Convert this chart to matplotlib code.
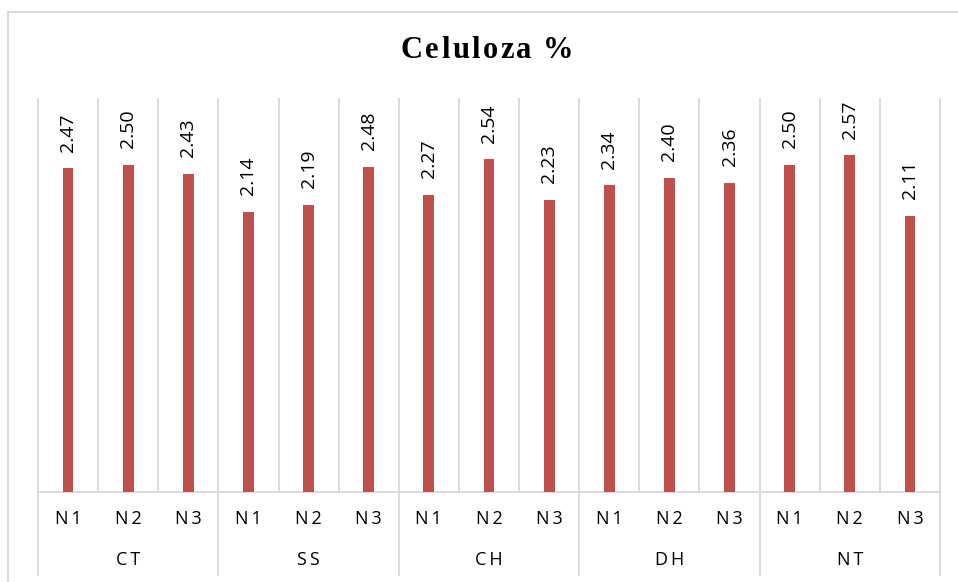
import matplotlib
matplotlib.use('Agg')
import matplotlib.pyplot as plt
import numpy as np

# data
groups = ['CT', 'SS', 'CH', 'DH', 'NT']
levels = ['N1', 'N2', 'N3']
values = [2.47, 2.50, 2.43,
          2.14, 2.19, 2.48,
          2.27, 2.54, 2.23,
          2.34, 2.40, 2.36,
          2.50, 2.57, 2.11]
title = 'Celuloza %'

BAR_COLOR = '#C0504D'
GRID_COLOR = '#D9D9D9'
LABEL_FONT = ['Open Sans', 'DejaVu Sans']
TITLE_FONT = ['Liberation Serif', 'DejaVu Serif']

fig = plt.figure(figsize=(9.58, 5.82), dpi=100)
ax = fig.add_axes([38 / 958, 90 / 582, 902 / 958, 393 / 582])

x = np.arange(len(values))
ax.bar(x, values, width=0.18, color=BAR_COLOR, zorder=3)
ax.set_xlim(-0.5, len(values) - 0.5)
ax.set_ylim(0, 3.0)

# data labels
for xi, v in zip(x, values):
    ax.annotate('%.2f' % v, (xi, v), xytext=(0, 12), textcoords='offset points',
                rotation=90, ha='center', va='bottom', fontsize=14,
                family=LABEL_FONT, color='#000000')

for s in ax.spines.values():
    s.set_visible(False)
ax.set_xticks([])
ax.set_yticks([])

trans = ax.get_xaxis_transform()
low = -(575 - 492) / 393
# vertical separators
for b in np.arange(-0.5, len(values), 1.0):
    k = int(round(b + 0.5))
    bottom = low if k % 3 == 0 else 0
    ax.plot([b, b], [1, bottom], transform=trans, color=GRID_COLOR, lw=1.3,
            clip_on=False, zorder=1)
# baseline
ax.plot([-0.5, len(values) - 0.5], [0, 0], transform=trans, color=GRID_COLOR,
        lw=1.3, clip_on=False, zorder=2)

# two-level category labels
for i in range(len(values)):
    lab = levels[i % 3]
    ax.text(i, -27 / 393, lab[0] + '\u2009' + lab[1], transform=trans,
            ha='center', va='center', fontsize=13, family=LABEL_FONT)
for g, name in enumerate(groups):
    ax.text(g * 3 + 1, -68 / 393, '\u2009'.join(name), transform=trans,
            ha='center', va='center', fontsize=13, family=LABEL_FONT)

# title with a little letter spacing, drawn char by char
renderer = fig.canvas.get_renderer()
spacing = 2.5  # px between letters
pieces = []
total = 0
for ch in title:
    t = fig.text(0, 0, ch, fontsize=22, fontweight='bold', family=TITLE_FONT,
                 va='center', ha='left')
    if ch == ' ':
        w = 6
    else:
        w = t.get_window_extent(renderer).width
    pieces.append((t, w))
    total += w + spacing
total -= spacing
xpos = 487 - total / 2
for t, w in pieces:
    t.set_position((xpos / 958, 1 - 50 / 582))
    xpos += w + spacing

# outer chart border (top and left only visible)
fig.add_artist(plt.Line2D([8 / 958, 1], [1 - 12 / 582, 1 - 12 / 582],
                          transform=fig.transFigure, color=GRID_COLOR, lw=1.3))
fig.add_artist(plt.Line2D([8 / 958, 8 / 958], [0, 1 - 12 / 582],
                          transform=fig.transFigure, color=GRID_COLOR, lw=1.3))

plt.savefig('out.png', dpi=100)
